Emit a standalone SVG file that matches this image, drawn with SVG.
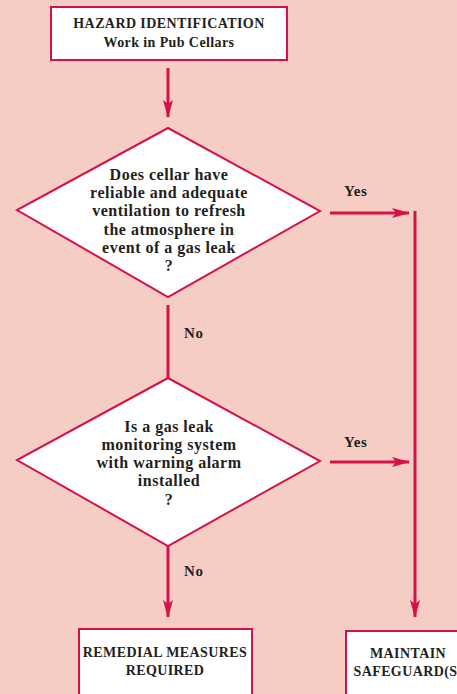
<svg xmlns="http://www.w3.org/2000/svg" width="457" height="694" viewBox="0 0 457 694">
<style>
.bg{fill:#f5cdc5}
.box{fill:#ffffff;stroke:#d41249;stroke-width:2}
.ln{stroke:#d41249;stroke-width:3;fill:none}
text{font-family:"Liberation Serif","Times New Roman",serif;font-weight:bold;fill:#231f20;text-anchor:middle}
.t13{font-size:14px;letter-spacing:0.4px}
.t14{font-size:16px;letter-spacing:0.5px}
.lbl{font-size:15px;letter-spacing:0.6px;text-anchor:start}
</style>
<defs>
<marker id="ah" viewBox="0 0 18 10" refX="17" refY="5" markerWidth="18" markerHeight="10" markerUnits="userSpaceOnUse" orient="auto">
<path d="M0,0 L18,5 L0,10 L4,5 Z" fill="#d41249"/>
</marker>
</defs>
<rect class="bg" x="0" y="0" width="457" height="694"/>
<g id="connectors">
<line class="ln" x1="168" y1="68" x2="168" y2="117" marker-end="url(#ah)"/>
<line class="ln" x1="330" y1="213" x2="409" y2="213" marker-end="url(#ah)"/>
<line class="ln" x1="415" y1="211" x2="415" y2="617" marker-end="url(#ah)"/>
<line class="ln" x1="168" y1="305" x2="168" y2="378"/>
<line class="ln" x1="330" y1="462" x2="409" y2="462" marker-end="url(#ah)"/>
<line class="ln" x1="168" y1="546" x2="168" y2="617" marker-end="url(#ah)"/>
<text class="lbl" x="344" y="196">Yes</text>
<text class="lbl" x="184" y="338">No</text>
<text class="lbl" x="344" y="447">Yes</text>
<text class="lbl" x="184" y="576">No</text>
</g>
<g id="hazard">
<rect class="box" x="51" y="7" width="236" height="53"/>
<text class="t13" x="169" y="28">HAZARD IDENTIFICATION</text>
<text class="t13" x="169" y="47">Work in Pub Cellars</text>
</g>
<g id="q1">
<polygon class="box" points="168,128 320,211 168,297 17,210"/>
<text class="t14" x="169" y="180">Does cellar have</text>
<text class="t14" x="169" y="198">reliable and adequate</text>
<text class="t14" x="169" y="216">ventilation to refresh</text>
<text class="t14" x="169" y="235">the atmosphere in</text>
<text class="t14" x="169" y="253">event of a gas leak</text>
<text class="t14" x="169" y="271">?</text>
</g>
<g id="q2">
<polygon class="box" points="168,378 320,461 168,546 17,460"/>
<text class="t14" x="169" y="432">Is a gas leak</text>
<text class="t14" x="169" y="450">monitoring system</text>
<text class="t14" x="169" y="468">with warning alarm</text>
<text class="t14" x="169" y="486">installed</text>
<text class="t14" x="169" y="505">?</text>
</g>
<g id="remedial">
<rect class="box" x="79" y="629" width="173" height="80"/>
<text class="t13" x="165" y="657">REMEDIAL MEASURES</text>
<text class="t13" x="165" y="675">REQUIRED</text>
</g>
<g id="maintain">
<rect class="box" x="346" y="631" width="130" height="80"/>
<text class="t13" x="408" y="658">MAINTAIN</text>
<text class="t13" x="408" y="676">SAFEGUARD(S)</text>
</g>
</svg>
